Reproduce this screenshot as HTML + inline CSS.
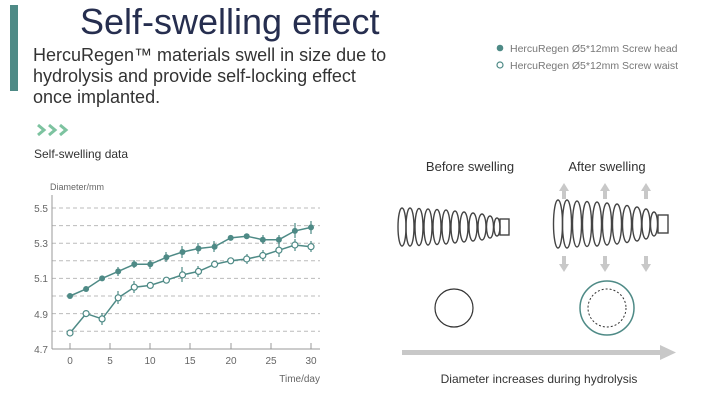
<!DOCTYPE html>
<html><head><meta charset="utf-8"><style>
body{margin:0;width:723px;height:407px;background:#fff;overflow:hidden;font-family:"Liberation Sans",sans-serif}
</style></head><body>
<svg width="723" height="407" xmlns="http://www.w3.org/2000/svg" font-family="Liberation Sans, sans-serif">
<rect x="10" y="5" width="8" height="86" fill="#4e8a86"/>
<text x="80" y="34" font-size="36" fill="#262e4f">Self-swelling effect</text>
<text x="33" y="61" font-size="18" fill="#333">HercuRegen™ materials swell in size due to</text>
<text x="33" y="82" font-size="18" fill="#333">hydrolysis and provide self-locking effect</text>
<text x="33" y="103" font-size="18" fill="#333">once implanted.</text>
<g fill="none" stroke="#7dc3a0" stroke-width="3"><path d="M38,125 l6,5 l-6,5"/><path d="M49,125 l6,5 l-6,5"/><path d="M60,125 l6,5 l-6,5"/></g>
<text x="34" y="158" font-size="12" fill="#333">Self-swelling data</text>
<circle cx="500" cy="48" r="3.3" fill="#4e8a86"/>
<circle cx="500" cy="65" r="3" fill="#fff" stroke="#4e8a86" stroke-width="1.2"/>
<text x="510" y="52" font-size="10.5" fill="#777">HercuRegen Ø5*12mm Screw head</text>
<text x="510" y="69" font-size="10.5" fill="#777">HercuRegen Ø5*12mm Screw waist</text>
<text x="50" y="190" font-size="9" fill="#666">Diameter/mm</text>
<g stroke="#bbb" stroke-dasharray="4,3" stroke-width="1">
<line x1="52" x2="320" y1="208" y2="208"/><line x1="52" x2="320" y1="225.6" y2="225.6"/>
<line x1="52" x2="320" y1="243.2" y2="243.2"/><line x1="52" x2="320" y1="260.8" y2="260.8"/>
<line x1="52" x2="320" y1="278.4" y2="278.4"/><line x1="52" x2="320" y1="296" y2="296"/>
<line x1="52" x2="320" y1="313.6" y2="313.6"/><line x1="52" x2="320" y1="331.2" y2="331.2"/>
</g>
<line x1="52" x2="320" y1="349" y2="349" stroke="#999"/>
<line x1="52" x2="52" y1="195" y2="349" stroke="#999"/>
<g stroke="#999"><line x1="70" x2="70" y1="343" y2="349"/><line x1="110" x2="110" y1="343" y2="349"/><line x1="150" x2="150" y1="343" y2="349"/><line x1="190" x2="190" y1="343" y2="349"/><line x1="231" x2="231" y1="343" y2="349"/><line x1="271" x2="271" y1="343" y2="349"/><line x1="311" x2="311" y1="343" y2="349"/></g>
<g font-size="10" fill="#666" text-anchor="end">
<text x="48" y="212">5.5</text><text x="48" y="247">5.3</text><text x="48" y="282">5.1</text><text x="48" y="318">4.9</text><text x="48" y="353">4.7</text></g>
<g font-size="10" fill="#666" text-anchor="middle">
<text x="70" y="364">0</text><text x="110" y="364">5</text><text x="150" y="364">10</text><text x="190" y="364">15</text><text x="231" y="364">20</text><text x="271" y="364">25</text><text x="311" y="364">30</text></g>
<text x="320" y="382" font-size="10" fill="#666" text-anchor="end">Time/day</text>
<g stroke="#4e8a86" stroke-width="1.2">
<line x1="118" x2="118" y1="267" y2="276"/><line x1="134" x2="134" y1="260" y2="268"/><line x1="150" x2="150" y1="260" y2="269"/><line x1="166" x2="166" y1="252" y2="262"/><line x1="182" x2="182" y1="246" y2="258"/><line x1="198" x2="198" y1="243" y2="254"/><line x1="214" x2="214" y1="241" y2="252"/><line x1="263" x2="263" y1="235" y2="244"/><line x1="279" x2="279" y1="235" y2="244"/><line x1="295" x2="295" y1="223" y2="238"/><line x1="311" x2="311" y1="221" y2="234"/>
<line x1="102" x2="102" y1="313" y2="325"/><line x1="118" x2="118" y1="291" y2="304"/><line x1="134" x2="134" y1="281" y2="293"/><line x1="182" x2="182" y1="267" y2="282"/><line x1="198" x2="198" y1="266" y2="277"/><line x1="247" x2="247" y1="254" y2="264"/><line x1="263" x2="263" y1="250" y2="261"/><line x1="279" x2="279" y1="243" y2="257"/><line x1="295" x2="295" y1="239" y2="251"/><line x1="311" x2="311" y1="241" y2="252"/>
</g>
<polyline fill="none" stroke="#4e8a86" stroke-width="1.5" points="70,296 86.1,289 102.1,278.4 118.2,271.4 134.3,264.3 150.3,264.3 166.4,257.3 182.5,252 198.5,248.5 214.6,246.7 230.7,237.9 246.7,236.2 262.8,239.7 278.9,239.7 294.9,230.9 311,227.4"/>
<polyline fill="none" stroke="#4e8a86" stroke-width="1.5" points="70,333 86.1,313.6 102.1,318.9 118.2,297.8 134.3,287.2 150.3,285.4 166.4,280.2 182.5,274.9 198.5,271.4 214.6,264.3 230.7,260.8 246.7,259 262.8,255.5 278.9,250.2 294.9,245 311,246.7"/>
<g fill="#4e8a86">
<circle cx="70" cy="296" r="3"/><circle cx="86.1" cy="289" r="3"/><circle cx="102.1" cy="278.4" r="3"/><circle cx="118.2" cy="271.4" r="3"/><circle cx="134.3" cy="264.3" r="3"/><circle cx="150.3" cy="264.3" r="3"/><circle cx="166.4" cy="257.3" r="3"/><circle cx="182.5" cy="252" r="3"/><circle cx="198.5" cy="248.5" r="3"/><circle cx="214.6" cy="246.7" r="3"/><circle cx="230.7" cy="237.9" r="3"/><circle cx="246.7" cy="236.2" r="3"/><circle cx="262.8" cy="239.7" r="3"/><circle cx="278.9" cy="239.7" r="3"/><circle cx="294.9" cy="230.9" r="3"/><circle cx="311" cy="227.4" r="3"/></g>
<g fill="#fff" stroke="#4e8a86" stroke-width="1.2">
<circle cx="70" cy="333" r="3"/><circle cx="86.1" cy="313.6" r="3"/><circle cx="102.1" cy="318.9" r="3"/><circle cx="118.2" cy="297.8" r="3"/><circle cx="134.3" cy="287.2" r="3"/><circle cx="150.3" cy="285.4" r="3"/><circle cx="166.4" cy="280.2" r="3"/><circle cx="182.5" cy="274.9" r="3"/><circle cx="198.5" cy="271.4" r="3"/><circle cx="214.6" cy="264.3" r="3"/><circle cx="230.7" cy="260.8" r="3"/><circle cx="246.7" cy="259" r="3"/><circle cx="262.8" cy="255.5" r="3"/><circle cx="278.9" cy="250.2" r="3"/><circle cx="294.9" cy="245" r="3"/><circle cx="311" cy="246.7" r="3"/></g>
<text x="470" y="171" font-size="13" fill="#333" text-anchor="middle">Before swelling</text>
<text x="607" y="171" font-size="13" fill="#333" text-anchor="middle">After swelling</text>
<g fill="none" stroke="#444" stroke-width="1.4">
<ellipse cx="402" cy="227" rx="4" ry="19"/><ellipse cx="410" cy="227" rx="4" ry="19"/><ellipse cx="419" cy="227" rx="4" ry="18.5"/><ellipse cx="428" cy="227" rx="4" ry="18"/><ellipse cx="437" cy="227" rx="4" ry="17.5"/><ellipse cx="446" cy="227" rx="4" ry="17"/><ellipse cx="455" cy="227" rx="4" ry="16"/><ellipse cx="464" cy="227" rx="4" ry="15"/><ellipse cx="473" cy="227" rx="4" ry="14"/><ellipse cx="482" cy="227" rx="4" ry="13"/><ellipse cx="490" cy="227" rx="3.5" ry="11"/><ellipse cx="497" cy="227" rx="3" ry="9"/><rect x="500" y="219" width="9" height="16"/>
<ellipse cx="558" cy="224" rx="4.5" ry="24"/><ellipse cx="567" cy="224" rx="4.5" ry="24"/><ellipse cx="577" cy="224" rx="4.5" ry="23"/><ellipse cx="587" cy="224" rx="4.5" ry="22.5"/><ellipse cx="597" cy="224" rx="4.5" ry="22"/><ellipse cx="607" cy="224" rx="4.5" ry="21"/><ellipse cx="617" cy="224" rx="4.5" ry="20"/><ellipse cx="627" cy="224" rx="4.5" ry="18.5"/><ellipse cx="637" cy="224" rx="4.5" ry="17"/><ellipse cx="646" cy="224" rx="4" ry="15"/><ellipse cx="654" cy="224" rx="3.5" ry="12"/><rect x="658" y="215" width="10" height="18"/>
</g>
<g fill="#c8c8c8">
<path d="M564,183 l-5,8 h3 v8 h4 v-8 h3z"/><path d="M605,183 l-5,8 h3 v8 h4 v-8 h3z"/><path d="M646,183 l-5,8 h3 v8 h4 v-8 h3z"/>
<path d="M564,272 l-5,-8 h3 v-8 h4 v8 h3z"/><path d="M605,272 l-5,-8 h3 v-8 h4 v8 h3z"/><path d="M646,272 l-5,-8 h3 v-8 h4 v8 h3z"/>
</g>
<circle cx="454" cy="308" r="19" fill="none" stroke="#333" stroke-width="1.2"/>
<circle cx="607" cy="308" r="27" fill="none" stroke="#4e8a86" stroke-width="1.5"/>
<circle cx="607" cy="308" r="19" fill="none" stroke="#333" stroke-width="1" stroke-dasharray="2,2"/>
<rect x="402" y="350" width="262" height="5" fill="#c8c8c8"/>
<path d="M660,345 l16,7.5 l-16,7.5z" fill="#c8c8c8"/>
<text x="539" y="383" font-size="12" fill="#333" text-anchor="middle">Diameter increases during hydrolysis</text>
</svg>
</body></html>
